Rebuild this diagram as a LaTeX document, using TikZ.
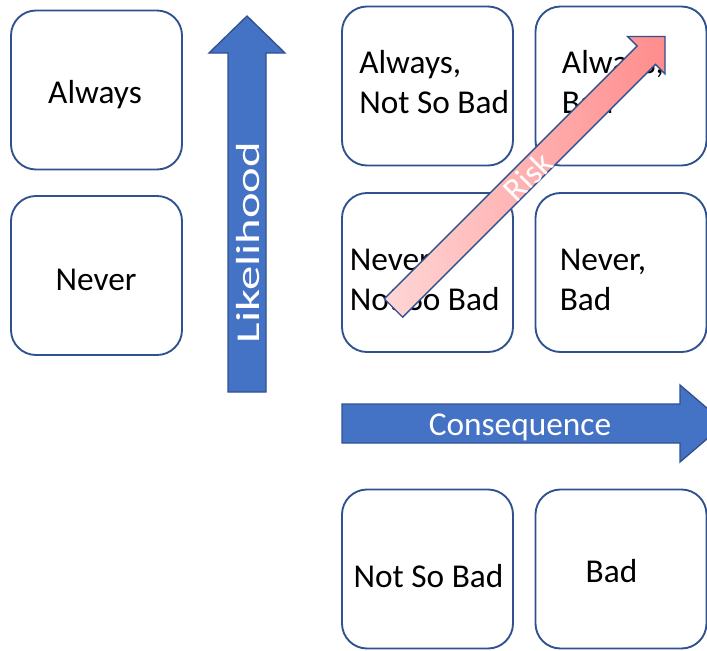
\documentclass[tikz,border=0pt]{standalone}
\usepackage{fontspec}
\setmainfont{Carlito}
\definecolor{boxline}{HTML}{2F528F}
\definecolor{arrowfill}{HTML}{4472C4}
\definecolor{riskLight}{HTML}{FFD6D6}
\definecolor{riskDark}{HTML}{FF8C8C}
\begin{document}
\begin{tikzpicture}[x=0.75pt,y=-0.75pt,
  box/.style={draw=boxline, line width=1.4pt, fill=white, rounded corners=18.75pt,
    minimum width=128.25pt, minimum height=119.25pt, inner sep=0pt},
  lbl/.style={font=\fontsize{25}{29.6}\selectfont, inner sep=0pt, text=black},
  blockarrow/.style={fill=arrowfill, draw=boxline, line width=1pt, line join=miter},
  riskarrow/.style={left color=riskLight, right color=riskDark, draw=boxline, line width=1pt},
]
\useasboundingbox (0,0) rectangle (707,650);
\clip (0,0) rectangle (707,650);

% likelihood labels
\node[box] (lalways) at (96.5,90) {};
\node[box] (lnever) at (96.5,275.5) {};
\node[lbl, anchor=base] (tAlways) at (95,103.3) {Always};
\node[lbl, anchor=base] (tNever) at (96,290) {Never};

% risk matrix (base anchor sits on the last line)
\node[box] (aNSB) at (427.5,86) {};
\node[box] (aB) at (621,86) {};
\node[box] (nNSB) at (427.5,272.5) {};
\node[box] (nB) at (621,272.5) {};
\node[lbl, anchor=base west, align=left] (tANSB) at (359,113) {Always,\\Not So Bad};
\node[lbl, anchor=base west, align=left] (tAB) at (561.7,113) {Always,\\Bad};
\node[lbl, anchor=base west, align=left] (tNNSB) at (349.5,310) {Never,\\Not So Bad};
\node[lbl, anchor=base west, align=left] (tNB) at (559.5,310) {Never,\\Bad};

% consequence labels
\node[box] (bNSB) at (427.5,569) {};
\node[box] (bB) at (621,569) {};
\node[lbl, anchor=base] (tBNSB) at (428.5,587) {Not So Bad};
\node[lbl, anchor=base] (tBB) at (611.5,582) {Bad};

% axis arrows
\draw[blockarrow] (228,392) -- (228,53) -- (209,53) -- (247,16) -- (285,53)
  -- (266,53) -- (266,392) -- cycle;
\node[lbl, text=white, anchor=base, rotate=90, xscale=1.46] (tLike) at (259,242.5) {Likelihood};

\draw[blockarrow] (342,404) -- (680,404) -- (680,385) -- (725,423.5) -- (680,462)
  -- (680,443) -- (342,443) -- cycle;
\node[lbl, text=white, anchor=base] (tCons) at (520,435) {Consequence};

% diagonal risk arrow
\begin{scope}[shift={(393.5,308)}, rotate=45]
  \draw[riskarrow] (0,-13) -- (357.5,-13) -- (357.5,-26.5) -- (384,0)
    -- (357.5,26.5) -- (357.5,13) -- (0,13) -- cycle;
  \node[lbl, text=white, transform shape] (tRisk) at (188,2) {Risk};
\end{scope}
\end{tikzpicture}
\end{document}
